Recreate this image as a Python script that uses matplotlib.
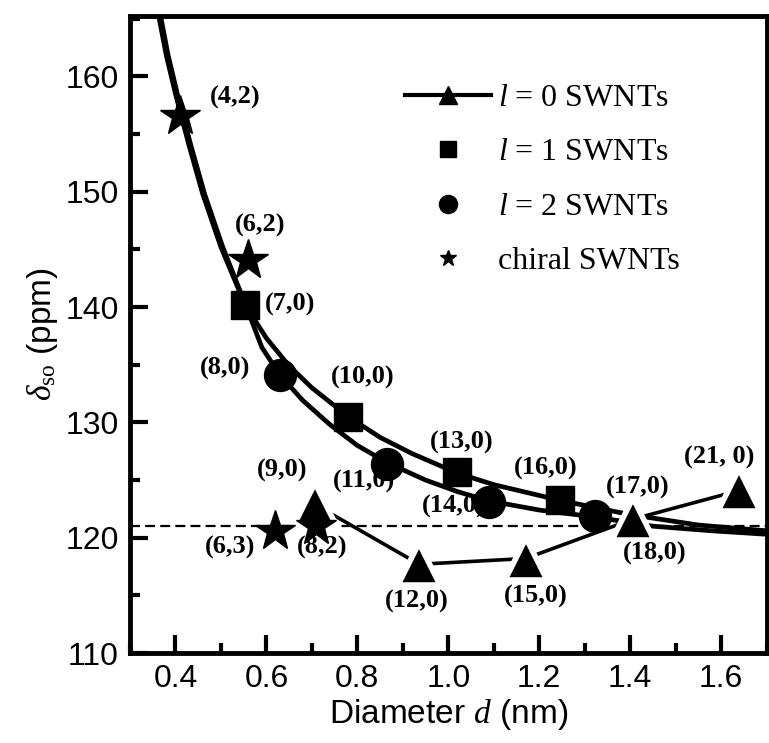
import matplotlib
matplotlib.use("Agg")
import matplotlib.pyplot as plt
from matplotlib.lines import Line2D
from matplotlib.ticker import MultipleLocator

plt.rcParams['mathtext.fontset'] = 'custom'
plt.rcParams['mathtext.it'] = 'Liberation Serif:italic'
plt.rcParams['mathtext.rm'] = 'Liberation Serif'

# l = 0 zigzag tubes
d_l0 = [0.706, 0.936, 1.17, 1.405, 1.64]
s_l0 = [122.9, 117.7, 118.2, 121.6, 124.1]
lab_l0 = ['(9,0)', '(12,0)', '(15,0)', '(18,0)', '(21, 0)']
# l = 1
d_l1 = [0.553, 0.78, 1.02, 1.246]
s_l1 = [140.2, 130.5, 125.7, 123.3]
lab_l1 = ['(7,0)', '(10,0)', '(13,0)', '(16,0)']
# l = 2
d_l2 = [0.63, 0.866, 1.089, 1.322]
s_l2 = [134.1, 126.4, 123.1, 121.9]
lab_l2 = ['(8,0)', '(11,0)', '(14,0)', '(17,0)']
# chiral
d_ch = [0.41, 0.56, 0.62, 0.71]
s_ch = [156.6, 144.1, 120.6, 121.0]
lab_ch = ['(4,2)', '(6,2)', '(6,3)', '(8,2)']

# fitted curves
fit1_x = [0.362, 0.38, 0.40, 0.43, 0.46, 0.50, 0.553, 0.60, 0.65, 0.70, 0.78, 0.85, 0.92, 1.02, 1.10, 1.25, 1.40, 1.55, 1.70]
fit1_y = [165.5, 161.8, 158.5, 154.0, 149.8, 145.2, 140.2, 137.3, 134.9, 133.0, 130.5, 128.7, 127.3, 125.6, 124.6, 123.2, 122.0, 121.1, 120.6]
fit2_x = [0.366, 0.384, 0.404, 0.434, 0.464, 0.504, 0.556, 0.59, 0.63, 0.68, 0.74, 0.80, 0.866, 0.95, 1.02, 1.089, 1.20, 1.322, 1.45, 1.58, 1.70]
fit2_y = [165.5, 161.8, 158.5, 154.0, 149.8, 145.2, 140.0, 136.5, 134.1, 131.9, 129.8, 128.0, 126.5, 125.0, 124.0, 123.2, 122.4, 121.8, 121.0, 120.6, 120.3]

ref_line = 121.0

# label positions (text centres)
lab_pos = {
    '(4,2)': (0.531, 158.2), '(6,2)': (0.586, 147.1), '(6,3)': (0.52, 119.2), '(8,2)': (0.723, 119.2),
    '(7,0)': (0.651, 140.2), '(10,0)': (0.811, 133.9), '(13,0)': (1.03, 128.3), '(16,0)': (1.215, 126.0),
    '(8,0)': (0.509, 134.7), '(11,0)': (0.815, 124.9), '(14,0)': (1.012, 122.7), '(17,0)': (1.417, 124.4),
    '(9,0)': (0.634, 125.8), '(12,0)': (0.931, 114.5), '(15,0)': (1.193, 114.9), '(18,0)': (1.453, 118.6),
    '(21, 0)': (1.596, 127.0),
}

fig = plt.figure(figsize=(7.69, 7.43), dpi=100)
ax = fig.add_axes([0.169, 0.121, 0.828, 0.857])

ax.axhline(ref_line, color='black', lw=1.6, ls=(0, (4.5, 2.3)), zorder=1)
ax.plot(fit1_x, fit1_y, color='black', lw=3.4, zorder=2)
ax.plot(fit2_x, fit2_y, color='black', lw=3.4, zorder=2)

ax.plot(d_l0, s_l0, color='black', lw=2.6, zorder=3)
ax.plot(d_l0, s_l0, ls='none', marker='^', ms=30, color='black', mec='white', mew=4, zorder=4)
ax.plot(d_l1, s_l1, ls='none', marker='s', ms=20, color='black', zorder=5)
ax.plot(d_l2, s_l2, ls='none', marker='o', ms=23, color='black', zorder=5)
ax.plot(d_ch, s_ch, ls='none', marker='*', ms=30, color='black', zorder=5)

for lab in lab_ch + lab_l1 + lab_l2 + lab_l0:
    x, y = lab_pos[lab]
    ax.text(x, y, lab, ha='center', va='center', family='Liberation Serif',
            fontweight='bold', fontsize=19, zorder=4)

ax.set_xlim(0.3, 1.7)
ax.set_ylim(110, 165.2)
ax.xaxis.set_minor_locator(MultipleLocator(0.1))
ax.yaxis.set_major_locator(MultipleLocator(10))
ax.yaxis.set_minor_locator(MultipleLocator(5))
ax.set_xticks([0.4, 0.6, 0.8, 1.0, 1.2, 1.4, 1.6])
ax.tick_params(which='both', direction='in', width=3, top=False, right=False)
ax.tick_params(which='major', length=13, labelsize=23, pad=8)
ax.tick_params(which='minor', length=7)
for lbl in ax.get_xticklabels() + ax.get_yticklabels():
    lbl.set_family('Liberation Sans')
for sp in ax.spines.values():
    sp.set_linewidth(3.5)

ax.set_xlabel('Diameter $\\it{d}$ (nm)', fontsize=24, family='Liberation Sans', labelpad=2)
ax.set_ylabel('$\\delta_{\\rm so}$ (ppm)', fontsize=24, family='Liberation Sans', labelpad=4)

handles = [
    Line2D([], [], color='black', lw=3, marker='^', ms=13),
    Line2D([], [], ls='none', color='black', marker='s', ms=12),
    Line2D([], [], ls='none', color='black', marker='o', ms=13),
    Line2D([], [], ls='none', color='black', marker='*', ms=12),
]
labels = ['$l$ = 0 SWNTs', '$l$ = 1 SWNTs', '$l$ = 2 SWNTs', 'chiral SWNTs']
ax.legend(handles, labels, loc='upper left', bbox_to_anchor=(0.432, 0.894), frameon=False,
          prop={'family': 'Liberation Serif', 'size': 23}, handlelength=2.7,
          labelspacing=0.78, handletextpad=0.2, borderpad=0, borderaxespad=0)

fig.savefig('out.png', dpi=100)
